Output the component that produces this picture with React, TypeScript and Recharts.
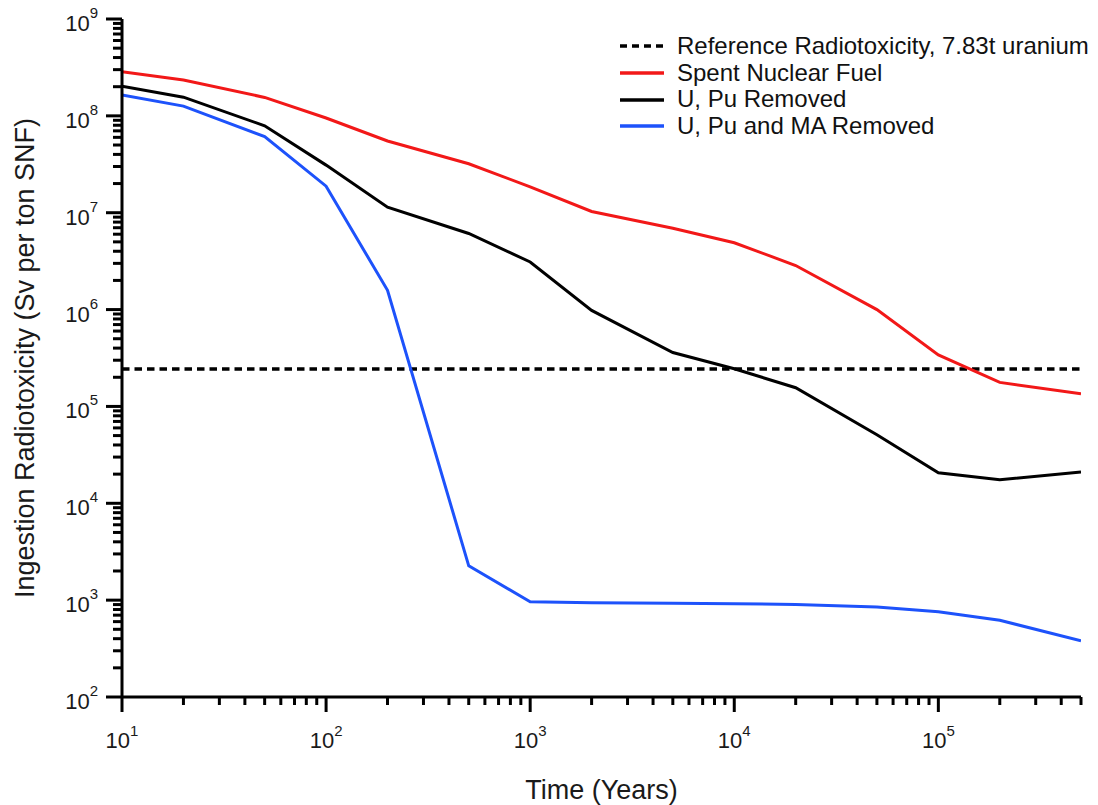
import { Legend, Line, LineChart, ReferenceLine, XAxis, YAxis } from "recharts";

const YEARS = [10, 20, 50, 100, 200, 500, 1000, 2000, 5000, 10000, 20000, 50000, 100000, 200000, 500000];
const SPENT_FUEL = [2.85e8, 2.35e8, 1.55e8, 9.5e7, 5.5e7, 3.2e7, 1.85e7, 1.03e7, 6.9e6, 4.9e6, 2.85e6, 1.0e6, 3.4e5, 1.77e5, 1.35e5];
const U_PU_REMOVED = [2.02e8, 1.56e8, 7.9e7, 3.1e7, 1.14e7, 6.1e6, 3.1e6, 9.8e5, 3.6e5, 2.45e5, 1.56e5, 5.1e4, 2.07e4, 1.75e4, 2.1e4];
const U_PU_MA_REMOVED = [1.64e8, 1.26e8, 6.1e7, 1.88e7, 1.58e6, 2.26e3, 9.6e2, 9.4e2, 9.3e2, 9.2e2, 9.0e2, 8.5e2, 7.6e2, 6.2e2, 3.8e2];
const REFERENCE_TOXICITY = 2.44e5;

const X_DECADES = [1, 2, 3, 4, 5];
const Y_DECADES = [2, 3, 4, 5, 6, 7, 8];
const X_MAX = 500000;
const Y_MAX = 1e9;

const LEGEND_ITEMS = [
  { label: "Reference Radiotoxicity, 7.83t uranium", color: "#000", dash: "7 5" },
  { label: "Spent Nuclear Fuel", color: "#f21818", dash: undefined },
  { label: "U, Pu Removed", color: "#000", dash: undefined },
  { label: "U, Pu and MA Removed", color: "#1d52fb", dash: undefined },
];

const data = YEARS.map((t, i) => ({
  t,
  snf: SPENT_FUEL[i],
  upu: U_PU_REMOVED[i],
  upuma: U_PU_MA_REMOVED[i],
}));

function decadeTicks(decades: number[], max: number) {
  const out: number[] = [];
  decades.forEach((k) => {
    for (let m = 1; m <= 9; m++) {
      const v = m * Math.pow(10, k);
      if (v <= max) out.push(v);
    }
  });
  if (!out.includes(max)) out.push(max);
  return out;
}

const xTicks = decadeTicks(X_DECADES, X_MAX);
const yTicks = decadeTicks(Y_DECADES, Y_MAX);

function exponentOf(v: number) {
  const l = Math.log10(v);
  const r = Math.round(l);
  return Math.abs(l - r) < 1e-9 ? r : null;
}

const FONT = "'Liberation Sans', Arial, sans-serif";

function XTick(props: any) {
  const { x, y, payload } = props;
  const exp = exponentOf(payload.value);
  return (
    <g>
      <line x1={x} x2={x} y1={y} y2={y + (exp !== null ? 15 : 8)} stroke="#000" strokeWidth={3} />
      {exp !== null && (
        <text x={x} y={y + 51} textAnchor="middle" fontSize={22} fill="#1a1a1a" fontFamily={FONT}>
          <tspan>10</tspan>
          <tspan dy={-12} fontSize={15}>{exp}</tspan>
        </text>
      )}
    </g>
  );
}

function YTick(props: any) {
  const { x, y, payload } = props;
  const exp = exponentOf(payload.value);
  return (
    <g>
      <line x1={x - (exp !== null ? 16 : 9)} x2={x} y1={y} y2={y} stroke="#000" strokeWidth={3} />
      {exp !== null && (
        <text x={x - 24} y={y + 12} textAnchor="end" fontSize={22} fill="#1a1a1a" fontFamily={FONT}>
          <tspan>10</tspan>
          <tspan dy={-13} fontSize={15}>{exp}</tspan>
        </text>
      )}
    </g>
  );
}

function XTitle(props: any) {
  const { viewBox } = props;
  return (
    <text x={viewBox.x + viewBox.width / 2} y={799} textAnchor="middle" fontSize={27} fill="#1a1a1a" fontFamily={FONT}>
      Time (Years)
    </text>
  );
}

function YTitle(props: any) {
  const { viewBox } = props;
  const cy = viewBox.y + viewBox.height / 2;
  const cx = 34;
  return (
    <text
      x={cx}
      y={cy}
      transform={`rotate(-90 ${cx} ${cy})`}
      textAnchor="middle"
      fontSize={27}
      fill="#1a1a1a"
      fontFamily={FONT}
    >
      Ingestion Radiotoxicity (Sv per ton SNF)
    </text>
  );
}

function ChartLegend() {
  return (
    <div style={{ fontFamily: FONT, fontSize: 24, color: "#111" }}>
      {LEGEND_ITEMS.map((item) => (
        <div key={item.label} style={{ display: "flex", alignItems: "center", height: 26.7, whiteSpace: "nowrap" }}>
          <svg width={44} height={8} style={{ marginRight: 13 }}>
            <line x1={0} x2={44} y1={4} y2={4} stroke={item.color} strokeWidth={3.5} strokeDasharray={item.dash} />
          </svg>
          <span style={{ lineHeight: "26.7px" }}>{item.label}</span>
        </div>
      ))}
    </div>
  );
}

export default function App() {
  return (
    <div style={{ position: "absolute", left: 0, top: 0, width: 1098, height: 805, background: "#fff" }}>
      <LineChart width={1098} height={805} data={data} margin={{ top: 19, right: 17, left: 0, bottom: 0 }}>
        <XAxis
          dataKey="t"
          type="number"
          scale="log"
          domain={[10, X_MAX]}
          allowDataOverflow
          ticks={xTicks}
          interval={0}
          height={108}
          tickSize={0}
          tickMargin={0}
          tickLine={false}
          tick={<XTick />}
          axisLine={{ stroke: "#000", strokeWidth: 3 }}
          label={<XTitle />}
        />
        <YAxis
          type="number"
          scale="log"
          domain={[100, Y_MAX]}
          allowDataOverflow
          ticks={yTicks}
          interval={0}
          width={122}
          tickSize={0}
          tickMargin={0}
          tickLine={false}
          tick={<YTick />}
          axisLine={{ stroke: "#000", strokeWidth: 3 }}
          label={<YTitle />}
        />
        <ReferenceLine y={REFERENCE_TOXICITY} stroke="#000" strokeWidth={3.5} strokeDasharray="7.5 5" />
        <Line type="linear" dataKey="snf" stroke="#f21818" strokeWidth={3} dot={false} isAnimationActive={false} />
        <Line type="linear" dataKey="upu" stroke="#000" strokeWidth={3} dot={false} isAnimationActive={false} />
        <Line type="linear" dataKey="upuma" stroke="#1d52fb" strokeWidth={3} dot={false} isAnimationActive={false} />
        <Legend
          layout="vertical"
          align="center"
          verticalAlign="middle"
          content={<ChartLegend />}
          wrapperStyle={{ top: 33, left: 620, width: 478, height: 110 }}
        />
      </LineChart>
    </div>
  );
}
